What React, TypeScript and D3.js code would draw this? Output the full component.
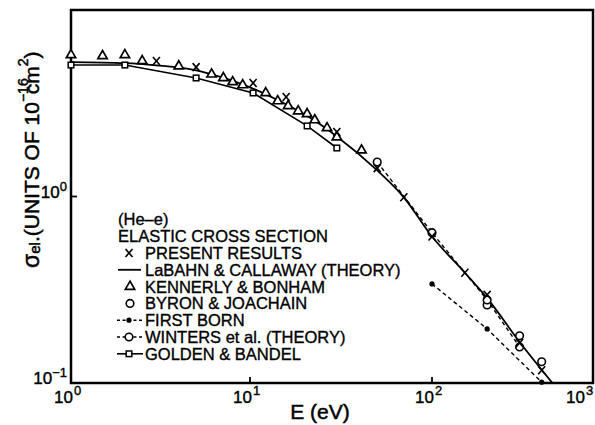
import React from 'react';
import * as d3 from 'd3';

// ---- data (E in eV, sigma in units of 1e-16 cm^2) ----
const presentE = [3, 5, 10.4, 15.8, 30, 50, 70, 100, 160, 220, 350, 480];
const presentS = [5.33, 4.94, 4.06, 3.42, 2.22, 1.42, 0.99, 0.61, 0.39, 0.297, 0.164, 0.117];

const labahnE = [1, 2, 3, 5, 7, 10, 15, 20, 30, 50, 70, 100, 160, 220, 350, 600];
const labahnS = [5.26, 5.19, 5.05, 4.75, 4.35, 3.85, 3.2, 2.75, 2.1, 1.38, 0.99, 0.61, 0.39, 0.285, 0.166, 0.093];

const kennerlyE = [1, 1.5, 2, 2.5, 4, 6.1, 7.1, 8, 9.1, 12.2, 14.2, 16.2, 18.4, 20.6, 22.7, 26.5, 30, 41];
const kennerlyS = [5.74, 5.67, 5.74, 5.33, 5.0, 4.52, 4.32, 4.11, 3.96, 3.59, 3.25, 3.06, 2.87, 2.77, 2.57, 2.33, 2.08, 1.77];

const byronE = [220, 350, 480];
const byronS = [0.262, 0.179, 0.13];

const firstBornE = [100, 220, 480];
const firstBornS = [0.34, 0.195, 0.101];

const wintersE = [50, 100, 220, 350];
const wintersS = [1.53, 0.64, 0.279, 0.156];

const goldenE = [1, 2, 5, 10.4, 20.6, 30];
const goldenS = [5.07, 5.07, 4.32, 3.59, 2.39, 1.82];

const xTickValues = [1, 10, 100, 1000];
const xTickExps = ['0', '1', '2', '3'];
const yTickValues = [0.1, 1];
const yTickExps = ['\u22121', '0'];

const legendTitle = ['(He\u2013e)', 'ELASTIC CROSS SECTION'];
const legendLabels = [
  'PRESENT RESULTS',
  'LaBAHN & CALLAWAY (THEORY)',
  'KENNERLY & BONHAM',
  'BYRON & JOACHAIN',
  'FIRST BORN',
  'WINTERS et al. (THEORY)',
  'GOLDEN & BANDEL',
];

const zip = (xs: number[], ys: number[]) => xs.map((x, i) => [x, ys[i]] as [number, number]);

const X0 = 71, X1 = 593, Y0 = 10, Y1 = 383;

export default function App() {
  const x = d3.scaleLog().domain([1, 10, 100, 1000]).range([X0, 250, 432, X1]);
  const y = d3.scaleLog().domain([0.1, 10]).range([Y1, Y0]);

  const lineSmooth = d3.line<[number, number]>().x(d => x(d[0])).y(d => y(d[1])).curve(d3.curveMonotoneX);
  const lineLin = d3.line<[number, number]>().x(d => x(d[0])).y(d => y(d[1]));

  const present = zip(presentE, presentS);
  const labahn = zip(labahnE, labahnS);
  const kennerly = zip(kennerlyE, kennerlyS);
  const byron = zip(byronE, byronS);
  const firstBorn = zip(firstBornE, firstBornS);
  const winters = zip(wintersE, wintersS);
  const golden = zip(goldenE, goldenS);

  const tri = d3.symbol().type(d3.symbolTriangle).size(38)();

  const Cross = ({ cx, cy }: { cx: number; cy: number }) => (
    <g stroke="#000" strokeWidth={1.6}>
      <line x1={cx - 3.5} y1={cy - 4} x2={cx + 3.5} y2={cy + 4} />
      <line x1={cx + 3.5} y1={cy - 4} x2={cx - 3.5} y2={cy + 4} />
    </g>
  );
  const Tri = ({ cx, cy }: { cx: number; cy: number }) => (
    <path d={tri as string} transform={`translate(${cx},${cy})`} fill="#fff" stroke="#000" strokeWidth={1.7} />
  );
  const Circ = ({ cx, cy }: { cx: number; cy: number }) => (
    <circle cx={cx} cy={cy} r={3.8} fill="#fff" stroke="#000" strokeWidth={1.6} />
  );
  const Sq = ({ cx, cy }: { cx: number; cy: number }) => (
    <rect x={cx - 2.8} y={cy - 2.8} width={5.6} height={5.6} fill="#fff" stroke="#000" strokeWidth={1.5} />
  );
  const Dot = ({ cx, cy }: { cx: number; cy: number }) => <circle cx={cx} cy={cy} r={2.6} fill="#000" />;

  const font = "'Liberation Sans', Arial, sans-serif";
  const legX = 118, legTextX = 145;
  const rowY = (i: number) => 253 + i * 16.8;

  return (
    <svg width={595} height={425} style={{ position: 'absolute', left: 0, top: 0, background: '#fff' }} fontFamily={font}>
      <rect width={595} height={425} fill="#fff" />
      <defs>
        <clipPath id="plot">
          <rect x={X0} y={Y0} width={X1 - X0} height={Y1 - Y0} />
        </clipPath>
      </defs>

      <g clipPath="url(#plot)" fill="none" stroke="#000">
        <path d={lineSmooth(labahn) as string} strokeWidth={1.8} />
        <path d={lineLin(golden) as string} strokeWidth={1.6} />
        <path d={lineLin(winters) as string} strokeWidth={1.4} strokeDasharray="4,3" />
        <path d={lineLin(firstBorn) as string} strokeWidth={1.4} strokeDasharray="4,3" />
      </g>

      {/* frame */}
      <rect x={X0} y={Y0} width={X1 - X0} height={Y1 - Y0} fill="none" stroke="#000" strokeWidth={2.5} />
      {xTickValues.slice(1, 3).map(v => (
        <line key={'xt' + v} x1={x(v)} x2={x(v)} y1={Y1} y2={Y1 - 6} stroke="#000" strokeWidth={1.8} />
      ))}
      <line x1={X0} x2={X0 + 6} y1={y(1)} y2={y(1)} stroke="#000" strokeWidth={1.8} />

      <g>
        {kennerly.map((d, i) => <Tri key={'k' + i} cx={x(d[0])} cy={y(d[1])} />)}
        {golden.map((d, i) => <Sq key={'g' + i} cx={x(d[0])} cy={y(d[1])} />)}
        {byron.map((d, i) => <Circ key={'b' + i} cx={x(d[0])} cy={y(d[1])} />)}
        {winters.map((d, i) => <Circ key={'w' + i} cx={x(d[0])} cy={y(d[1])} />)}
        {firstBorn.map((d, i) => <Dot key={'f' + i} cx={x(d[0])} cy={y(d[1])} />)}
        {present.map((d, i) => <Cross key={'p' + i} cx={x(d[0])} cy={y(d[1])} />)}
      </g>

      {/* tick labels */}
      <g fontSize={17} fill="#000" stroke="#000" strokeWidth={0.4}>
        {xTickValues.map((v, i) => (
          <text key={'xl' + v} x={Math.min(x(v) + 2, 585)} y={403} textAnchor="end">
            10
          </text>
        ))}
        {xTickValues.map((v, i) => (
          <text key={'xe' + v} x={Math.min(x(v) + 2, 585) + 1} y={395} fontSize={13}>
            {xTickExps[i]}
          </text>
        ))}
        {yTickValues.map((v, i) => (
          <text key={'yl' + v} x={67} y={y(v) + 1} textAnchor="end">
            10
            <tspan fontSize={13} dy={-7}>{yTickExps[i]}</tspan>
          </text>
        ))}
      </g>

      {/* axis titles */}
      <text x={320} y={419} fontSize={21} textAnchor="middle" stroke="#000" strokeWidth={0.5}>
        E (eV)
      </text>
      <text transform="translate(39,268) rotate(-90)" fontSize={21} stroke="#000" strokeWidth={0.5}>
        <tspan fontSize={23}>σ</tspan>
        <tspan fontSize={15} dy={1}>el</tspan>
        <tspan dy={-1}>.(UNITS OF 10</tspan>
        <tspan fontSize={14} dy={-11}>−16</tspan>
        <tspan dx={-16} dy={11}>cm</tspan>
        <tspan fontSize={14} dy={-11}>2</tspan>
        <tspan dy={11}>)</tspan>
      </text>

      {/* legend */}
      <g fontSize={16.5} fill="#000" stroke="#000" strokeWidth={0.35}>
        <text x={legX} y={rowY(-2) + 6}>{legendTitle[0]}</text>
        <text x={legX} y={rowY(-1) + 6}>{legendTitle[1]}</text>
        {legendLabels.map((t, i) => (
          <text key={'lg' + i} x={legTextX} y={rowY(i) + 6}>{t}</text>
        ))}
      </g>
      <g>
        <Cross cx={129} cy={rowY(0)} />
        <line x1={118} x2={141} y1={rowY(1)} y2={rowY(1)} stroke="#000" strokeWidth={1.8} />
        <Tri cx={130} cy={rowY(2)} />
        <Circ cx={130} cy={rowY(3)} />
        <line x1={117} x2={143} y1={rowY(4)} y2={rowY(4)} stroke="#000" strokeWidth={1.4} strokeDasharray="3,2.5" />
        <Dot cx={129} cy={rowY(4)} />
        <line x1={117} x2={143} y1={rowY(5)} y2={rowY(5)} stroke="#000" strokeWidth={1.4} strokeDasharray="3,2.5" />
        <Circ cx={129} cy={rowY(5)} />
        <line x1={117} x2={143} y1={rowY(6)} y2={rowY(6)} stroke="#000" strokeWidth={1.6} />
        <Sq cx={129} cy={rowY(6)} />
      </g>
    </svg>
  );
}
